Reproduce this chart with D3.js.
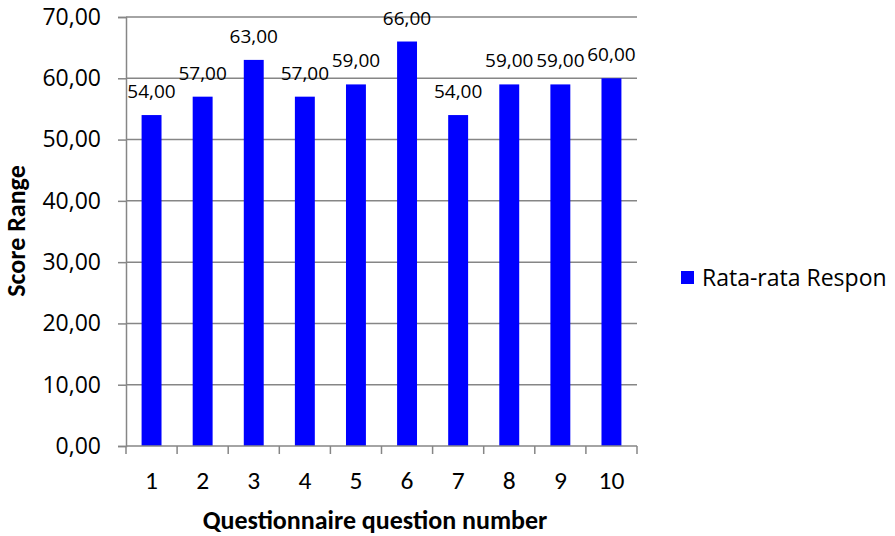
<!DOCTYPE html>
<html>
<head>
<meta charset="utf-8">
<script src="https://cdn.jsdelivr.net/npm/d3@7"></script>
<style>
  html, body { margin: 0; padding: 0; background: #fff; }
  svg { display: block; }
</style>
</head>
<body>
<svg id="chart" width="895" height="536"></svg>
<script>
const categories = ["1", "2", "3", "4", "5", "6", "7", "8", "9", "10"];
const values = [54, 57, 63, 57, 59, 66, 54, 59, 59, 60];
const yTicks = [0, 10, 20, 30, 40, 50, 60, 70];
const seriesName = "Rata-rata Respon";
const xTitle = "Questionnaire question number";
const yTitle = "Score Range";

const svg = d3.select("#chart");
const mLeft = 126, mRight = 637, mTop = 17, mBottom = 446;
const gridColor = "#868686";
const barColor = "#0000ff";

const x = d3.scaleBand().domain(categories).range([mLeft, mRight]).paddingInner(0.61).paddingOuter(0.305);
const xb = d3.scaleBand().domain(categories).range([mLeft, mRight]);
const y = d3.scaleLinear().domain([0, 70]).range([mBottom, mTop]);
const fmt = v => d3.format(".2f")(v).replace(".", ",");

// gridlines
svg.append("g").selectAll("line").data(yTicks.filter(t => t > 0)).join("line")
  .attr("x1", mLeft).attr("x2", mRight)
  .attr("y1", d => y(d)).attr("y2", d => y(d))
  .attr("stroke", gridColor).attr("stroke-width", 1.5);

// bars
svg.append("g").selectAll("rect").data(values).join("rect")
  .attr("x", (d, i) => x(categories[i]))
  .attr("width", x.bandwidth())
  .attr("y", d => y(d))
  .attr("height", d => y(0) - y(d))
  .attr("fill", barColor);

// y axis
const yAxis = svg.append("g").attr("transform", `translate(${mLeft},0)`)
  .call(d3.axisLeft(y).tickValues(yTicks).tickFormat(fmt).tickSize(8).tickPadding(17));
yAxis.select(".domain").attr("stroke", gridColor).attr("stroke-width", 1.5);
yAxis.selectAll(".tick line").attr("stroke", gridColor).attr("stroke-width", 1.5);
yAxis.selectAll(".tick text").attr("font-family", "'Open Sans', sans-serif")
  .attr("font-size", 23).attr("fill", "#000");

// x axis (ticks at band boundaries)
const xAxisG = svg.append("g").attr("transform", `translate(0,${mBottom})`);
xAxisG.append("line").attr("x1", mLeft).attr("x2", mRight).attr("y1", 0).attr("y2", 0)
  .attr("stroke", gridColor).attr("stroke-width", 1.5);
const boundaries = categories.map(c => xb(c)).concat([mRight]);
xAxisG.selectAll("line.tk").data(boundaries).join("line").attr("class", "tk")
  .attr("x1", d => d).attr("x2", d => d).attr("y1", 0).attr("y2", 8)
  .attr("stroke", gridColor).attr("stroke-width", 1.5);
xAxisG.selectAll("text").data(categories).join("text")
  .attr("x", d => xb(d) + xb.bandwidth() / 2).attr("y", 43)
  .attr("text-anchor", "middle")
  .attr("font-family", "Carlito, Calibri, Lato, sans-serif").attr("font-size", 25.5)
  .attr("fill", "#000").text(d => d);

// data labels
svg.append("g").selectAll("text").data(values).join("text")
  .attr("x", (d, i) => x(categories[i]) + x.bandwidth() / 2)
  .attr("y", d => y(d) - 17)
  .attr("text-anchor", "middle")
  .attr("font-family", "'Open Sans', sans-serif").attr("font-size", 19)
  .attr("fill", "#000").text(d => fmt(d));

// axis titles
svg.append("text").attr("x", 375).attr("y", 529).attr("text-anchor", "middle")
  .attr("font-family", "Carlito, Calibri, Lato, sans-serif").attr("font-weight", "bold")
  .attr("font-size", 26).attr("fill", "#000").text(xTitle);
svg.append("text").attr("transform", "translate(25,231) rotate(-90)")
  .attr("text-anchor", "middle")
  .attr("font-family", "Carlito, Calibri, Lato, sans-serif").attr("font-weight", "bold")
  .attr("font-size", 26).attr("fill", "#000").text(yTitle);

// legend
const lg = svg.append("g").attr("transform", "translate(681,271)");
lg.append("rect").attr("width", 13).attr("height", 13).attr("fill", barColor);
lg.append("text").attr("x", 21).attr("y", 15)
  .attr("font-family", "'Open Sans', sans-serif").attr("font-size", 23)
  .attr("fill", "#000").text(seriesName);
</script>
</body>
</html>
